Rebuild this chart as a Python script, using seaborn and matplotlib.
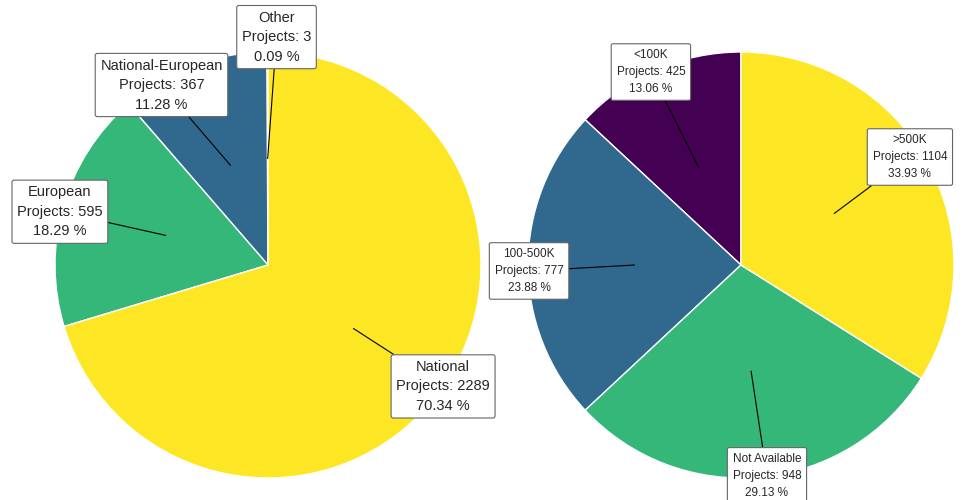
import matplotlib
matplotlib.use("Agg")
import matplotlib.pyplot as plt
import numpy as np
import seaborn as sns

sns.set_theme(style="white")
plt.rcParams["font.family"] = ["Liberation Sans", "DejaVu Sans"]

# project type split
type_labels = ["Other", "National-European", "European", "National"]
type_counts = [3, 367, 595, 2289]

# budget split
budget_labels = ["<100K", "100-500K", "Not Available", ">500K"]
budget_counts = [425, 777, 948, 1104]

# where the label boxes sit (pie radius = 1)
type_label_pos = [(0.04, 1.07), (-0.50, 0.845), (-0.977, 0.25), (0.822, -0.57)]
budget_label_pos = [(-0.423, 0.906), (-0.995, -0.028), (0.122, -0.99), (0.793, 0.507)]


def draw_pie(ax, labels, counts, label_pos, fontsize, spacing, pad):
    colors = matplotlib.colormaps["viridis"](np.linspace(0, 1, len(counts)))
    wedges, _ = ax.pie(
        counts,
        colors=colors,
        startangle=90,
        counterclock=True,
        radius=1,
        wedgeprops=dict(edgecolor="white", linewidth=1),
    )
    total = sum(counts)
    for w, lab, cnt, pos in zip(wedges, labels, counts, label_pos):
        mid = np.deg2rad((w.theta1 + w.theta2) / 2)
        pt = (0.5 * np.cos(mid), 0.5 * np.sin(mid))
        txt = f"{lab}\nProjects: {cnt}\n{cnt / total * 100:.2f} %"
        ax.annotate(
            txt,
            xy=pt,
            xytext=pos,
            ha="center",
            va="center",
            fontsize=fontsize,
            linespacing=spacing,
            multialignment="center",
            bbox=dict(boxstyle=f"round,pad={pad},rounding_size=0.15",
                      fc="white", ec="#666666", lw=0.8),
            arrowprops=dict(arrowstyle="-", color="black", lw=0.8,
                            shrinkA=0, shrinkB=0),
            annotation_clip=False,
            zorder=5,
        )
    ax.set_xlim(-1, 1)
    ax.set_ylim(-1, 1)
    ax.set_aspect("equal")
    ax.axis("off")


fig = plt.figure(figsize=(9.64, 5), dpi=100)
ax1 = fig.add_axes([55 / 964, 22 / 500, 426 / 964, 426 / 500])
ax2 = fig.add_axes([528 / 964, 22 / 500, 426 / 964, 426 / 500])

draw_pie(ax1, type_labels, type_counts, type_label_pos, 10.5, 1.5, 0.35)
draw_pie(ax2, budget_labels, budget_counts, budget_label_pos, 8.5, 1.55, 0.45)

fig.savefig("out.png", dpi=100)
